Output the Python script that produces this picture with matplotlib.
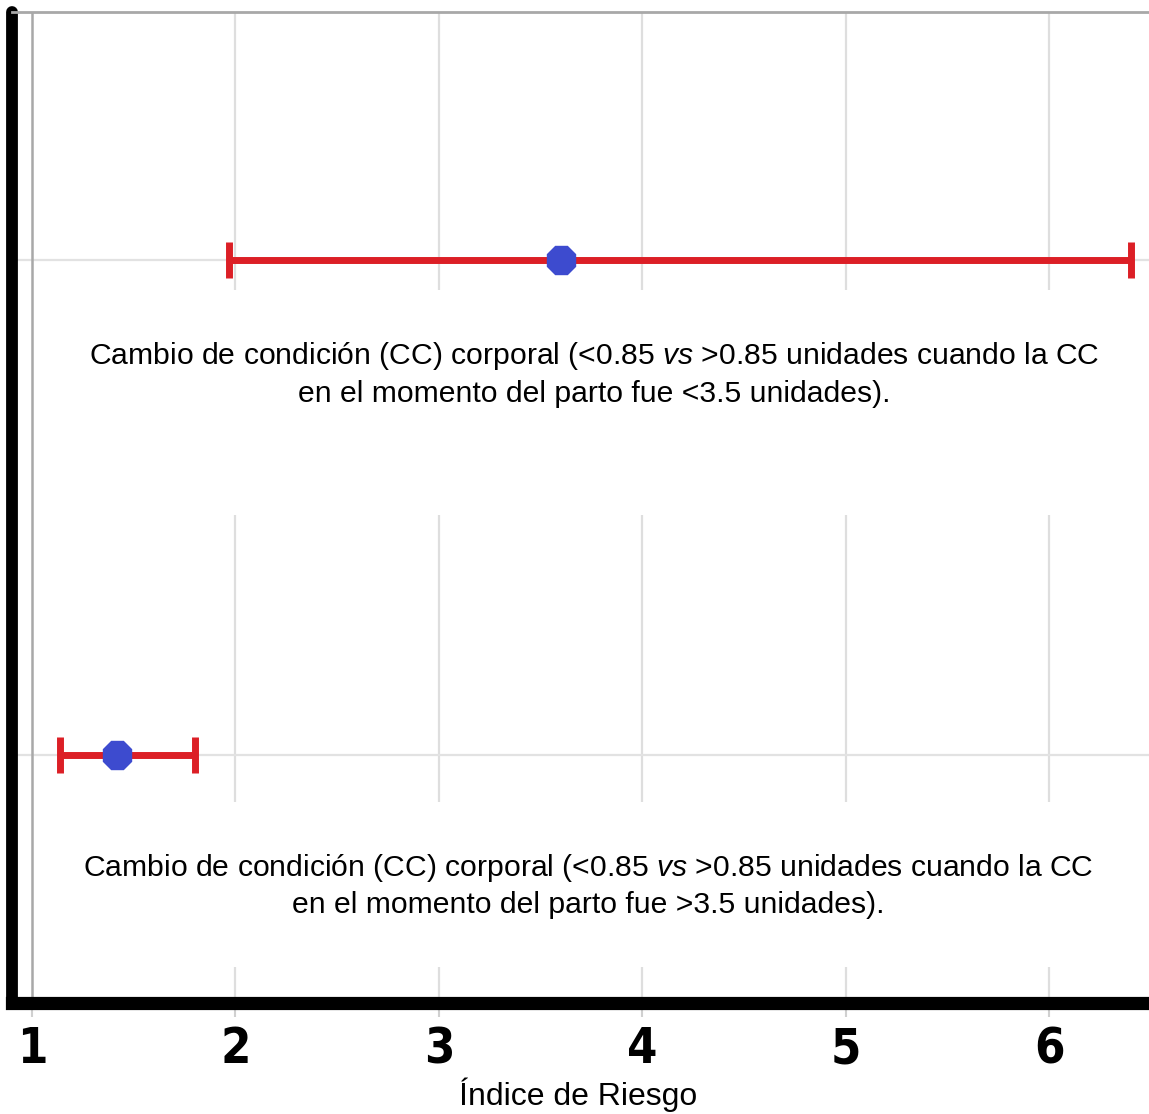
import matplotlib
matplotlib.use("Agg")
import matplotlib.pyplot as plt
from matplotlib.patches import Rectangle
import numpy as np

# ---- data ----
labels = [
    "Cambio de condición (CC) corporal (<0.85 $\\mathit{vs}$ >0.85 unidades cuando la CC\nen el momento del parto fue <3.5 unidades).",
    "Cambio de condición (CC) corporal (<0.85 $\\mathit{vs}$ >0.85 unidades cuando la CC\nen el momento del parto fue >3.5 unidades).",
]
hr = np.array([3.60, 1.42])
ci_low = np.array([1.97, 1.14])
ci_high = np.array([6.40, 1.80])
ypos = np.array([3, 1])
xticks = [1, 2, 3, 4, 5, 6]
xlabel = "Índice de Riesgo"

plt.rcParams['mathtext.fontset'] = 'custom'
plt.rcParams['mathtext.it'] = 'Liberation Sans:italic'
plt.rcParams['mathtext.rm'] = 'Liberation Sans'

W, H = 1149, 1114
fig = plt.figure(figsize=(W / 100, H / 100), dpi=100)
left = 12 / W
bottom = (H - 1003) / H
top = 1 - 12 / H
ax = fig.add_axes([left, bottom, 1 - left, top - bottom])
ax.set_xlim(0.902, 6.49)
ax.set_ylim(0, 4)

# grid
for xv in xticks[1:]:
    ax.axvline(xv, color="#dedede", lw=1.6, zorder=0.5)
for yv in ypos:
    ax.axhline(yv, color="#e2e2e2", lw=1.6, zorder=0.5)
# white label boxes interrupting the grid
ax.add_patch(Rectangle((0.03, 0.4924), 1.0, 0.7195 - 0.4924, transform=ax.transAxes,
                       facecolor="white", edgecolor="none", zorder=1))
ax.add_patch(Rectangle((0.03, 0.0363), 1.0, 0.2028 - 0.0363, transform=ax.transAxes,
                       facecolor="white", edgecolor="none", zorder=1))
ax.axvline(xticks[0], color="#a8a8a8", lw=1.8, zorder=1.5)

# error bars and points
ax.errorbar(hr, ypos, xerr=[hr - ci_low, ci_high - hr], fmt="none",
            ecolor="#dc1f26", elinewidth=5, capsize=13, capthick=5, zorder=3)
ax.plot(hr, ypos, linestyle="none", marker="8", markersize=22,
        color="#3d4bcf", markeredgecolor="#3d4bcf", zorder=4)

# labels
ax.text(0.512, 0.6347, labels[0], transform=ax.transAxes, ha="center", va="center",
        fontsize=21.7, family=["Liberation Sans", "DejaVu Sans"], linespacing=1.36, zorder=5)
ax.text(0.5066, 0.1186, labels[1], transform=ax.transAxes, ha="center", va="center",
        fontsize=21.7, family=["Liberation Sans", "DejaVu Sans"], linespacing=1.36, zorder=5)

# spines
ax.spines["right"].set_visible(False)
ax.spines["top"].set_color("#a8a8a8")
ax.spines["top"].set_linewidth(2)
ax.spines["left"].set_linewidth(8.5)
ax.spines["left"].set_color("black")
ax.spines["left"].set_capstyle("round")
ax.spines["bottom"].set_linewidth(9.5)
ax.spines["bottom"].set_color("black")

ax.set_yticks([])
ax.set_xticks(xticks)
ax.set_xticklabels([str(t) for t in xticks], fontsize=35, fontweight="bold",
                   fontstretch="condensed", family=["DejaVu Sans"])
ax.tick_params(axis="x", length=10, width=1.5, color="#d0d0d0", pad=6)

fig.text(578 / W, 1 - 1095 / H, xlabel, ha="center", va="center", fontsize=23,
         family=["Liberation Sans", "DejaVu Sans"])

fig.savefig("out.png", dpi=100)
